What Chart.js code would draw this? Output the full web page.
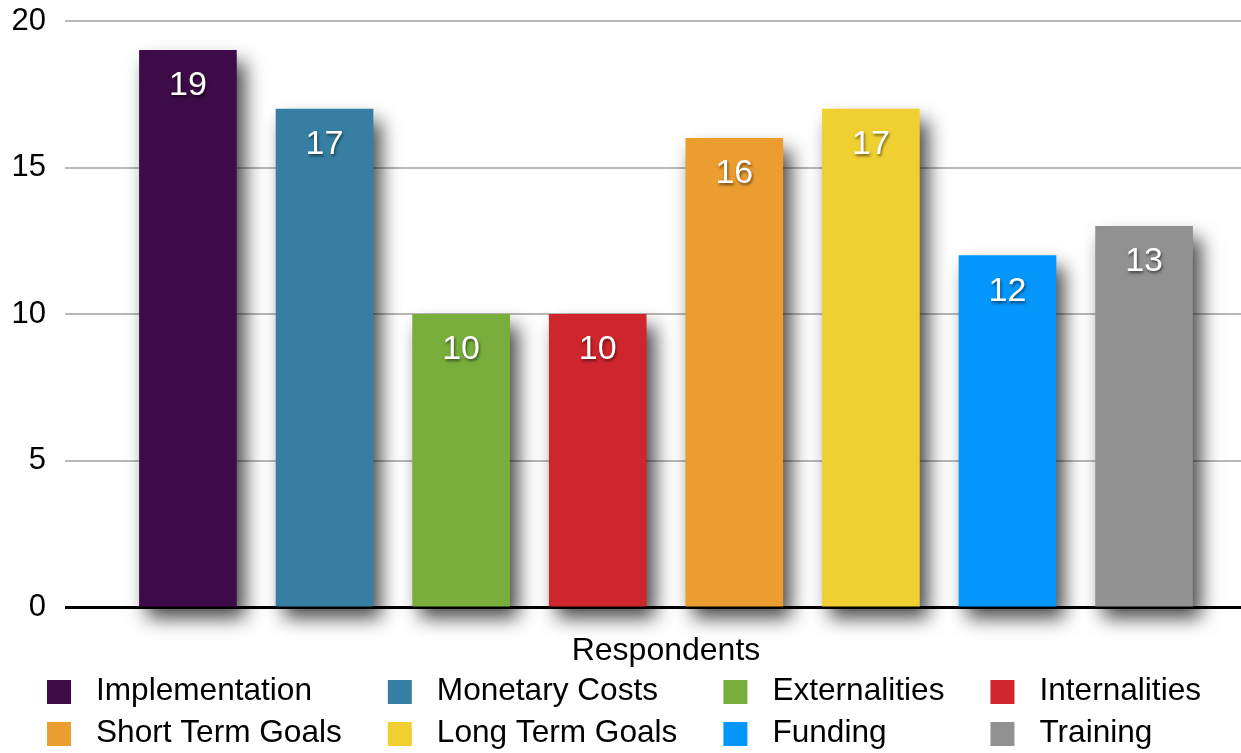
<!DOCTYPE html>
<html>
<head>
<meta charset="utf-8">
<title>Respondents</title>
<script src="https://cdn.jsdelivr.net/npm/chart.js@4/dist/chart.umd.min.js"></script>
<style>
  html, body { margin: 0; padding: 0; background: #fff; overflow: hidden; }
  #wrap { width: 1267px; height: 753px; }
</style>
</head>
<body>
<div id="wrap"><canvas id="chart" width="1267" height="753"></canvas></div>
<script>
// Survey answers: one bar per topic
const categories = ['Implementation', 'Monetary Costs', 'Externalities', 'Internalities',
                    'Short Term Goals', 'Long Term Goals', 'Funding', 'Training'];
const values = [19, 17, 10, 10, 16, 17, 12, 13];
const colors = ['#3d0b47', '#367fa3', '#79ae3c', '#cf262d',
                '#eb9d2f', '#f0d031', '#0496fb', '#919191'];
const yTicks = [0, 5, 10, 15, 20];
const axisTitle = 'Respondents';

const FONT = '"Liberation Sans", Arial, Helvetica, sans-serif';

// Each topic is its own dataset placed at its own x position
const datasets = categories.map((name, i) => ({
  label: name,
  data: [{ x: i, y: values[i] }],
  backgroundColor: colors[i],
  borderWidth: 0,
  grouped: false,
  barThickness: 97,
  clip: false
}));

// Soft drop shadow behind the bars
const barShadow = {
  id: 'barShadow',
  beforeDatasetsDraw(chart) {
    const ctx = chart.ctx;
    ctx.save();
    ctx.shadowColor = 'rgba(0,0,0,0.72)';
    ctx.shadowBlur = 18;
    ctx.shadowOffsetX = 8;
    ctx.shadowOffsetY = 12;
  },
  afterDatasetsDraw(chart) {
    chart.ctx.restore();
  }
};

// White value labels near the top of each bar
const valueLabels = {
  id: 'valueLabels',
  afterDatasetsDraw(chart) {
    const ctx = chart.ctx;
    ctx.save();
    ctx.font = '34px ' + FONT;
    ctx.fillStyle = '#ffffff';
    ctx.textAlign = 'center';
    ctx.textBaseline = 'alphabetic';
    ctx.shadowColor = 'rgba(0,0,0,0.55)';
    ctx.shadowBlur = 3;
    ctx.shadowOffsetX = 1;
    ctx.shadowOffsetY = 2;
    chart.data.datasets.forEach((ds, i) => {
      const el = chart.getDatasetMeta(i).data[0];
      if (!el) return;
      ctx.fillText(String(ds.data[0].y), el.x, el.y + 45);
    });
    ctx.restore();
  }
};

// Legend laid out as a grid of two rows and four aligned columns
const gridLegend = {
  id: 'gridLegend',
  afterDraw(chart) {
    const ctx = chart.ctx;
    const perRow = 4;
    const box = 24, boxToText = 49, colGap = 46;
    const rowY = [chart.height - 61, chart.height - 19];
    const items = chart.data.datasets.map(ds => ({ text: ds.label, color: ds.backgroundColor }));
    ctx.save();
    ctx.font = '31.6px ' + FONT;
    const colW = [];
    for (let c = 0; c < perRow; c++) {
      let w = 0;
      for (let r = 0; r * perRow + c < items.length; r++) {
        w = Math.max(w, ctx.measureText(items[r * perRow + c].text).width);
      }
      colW.push(w);
    }
    let x = 47;
    const colX = colW.map(w => { const cx = x; x += boxToText + w + colGap; return cx; });
    ctx.textBaseline = 'middle';
    ctx.textAlign = 'left';
    items.forEach((it, i) => {
      const r = Math.floor(i / perRow), c = i % perRow;
      const y = rowY[r];
      ctx.fillStyle = it.color;
      ctx.fillRect(colX[c], y - box / 2, box, box);
      ctx.fillStyle = '#000';
      ctx.fillText(it.text, colX[c] + boxToText, y - 1);
    });
    ctx.restore();
  }
};

new Chart(document.getElementById('chart'), {
  type: 'bar',
  data: { datasets },
  options: {
    responsive: false,
    animation: false,
    layout: { padding: { top: 21, left: 12, right: 0, bottom: 83 } },
    plugins: {
      legend: { display: false },
      tooltip: { enabled: false }
    },
    scales: {
      x: {
        type: 'linear',
        offset: false,
        min: -0.9,
        max: 7.9,
        grid: { display: false, drawTicks: false },
        border: { display: false },
        ticks: { display: false },
        title: {
          display: true,
          text: axisTitle,
          color: '#000',
          font: { family: FONT, size: 32 },
          padding: { top: 24, bottom: 0 }
        }
      },
      y: {
        min: yTicks[0],
        max: yTicks[yTicks.length - 1],
        afterBuildTicks(scale) { scale.ticks = yTicks.map(v => ({ value: v })); },
        afterFit(scale) {
          scale.width = 53;
          scale.paddingTop = 0;
          scale.paddingBottom = 0;
        },
        border: { display: false },
        grid: {
          drawTicks: false,
          color: c => (c.tick && c.tick.value === 0) ? '#000000' : '#b8b8b8',
          lineWidth: c => (c.tick && c.tick.value === 0) ? 3 : 2
        },
        ticks: {
          padding: 19,
          color: '#000',
          font: { family: FONT, size: 31 }
        }
      }
    }
  },
  plugins: [barShadow, valueLabels, gridLegend]
});
</script>
</body>
</html>
